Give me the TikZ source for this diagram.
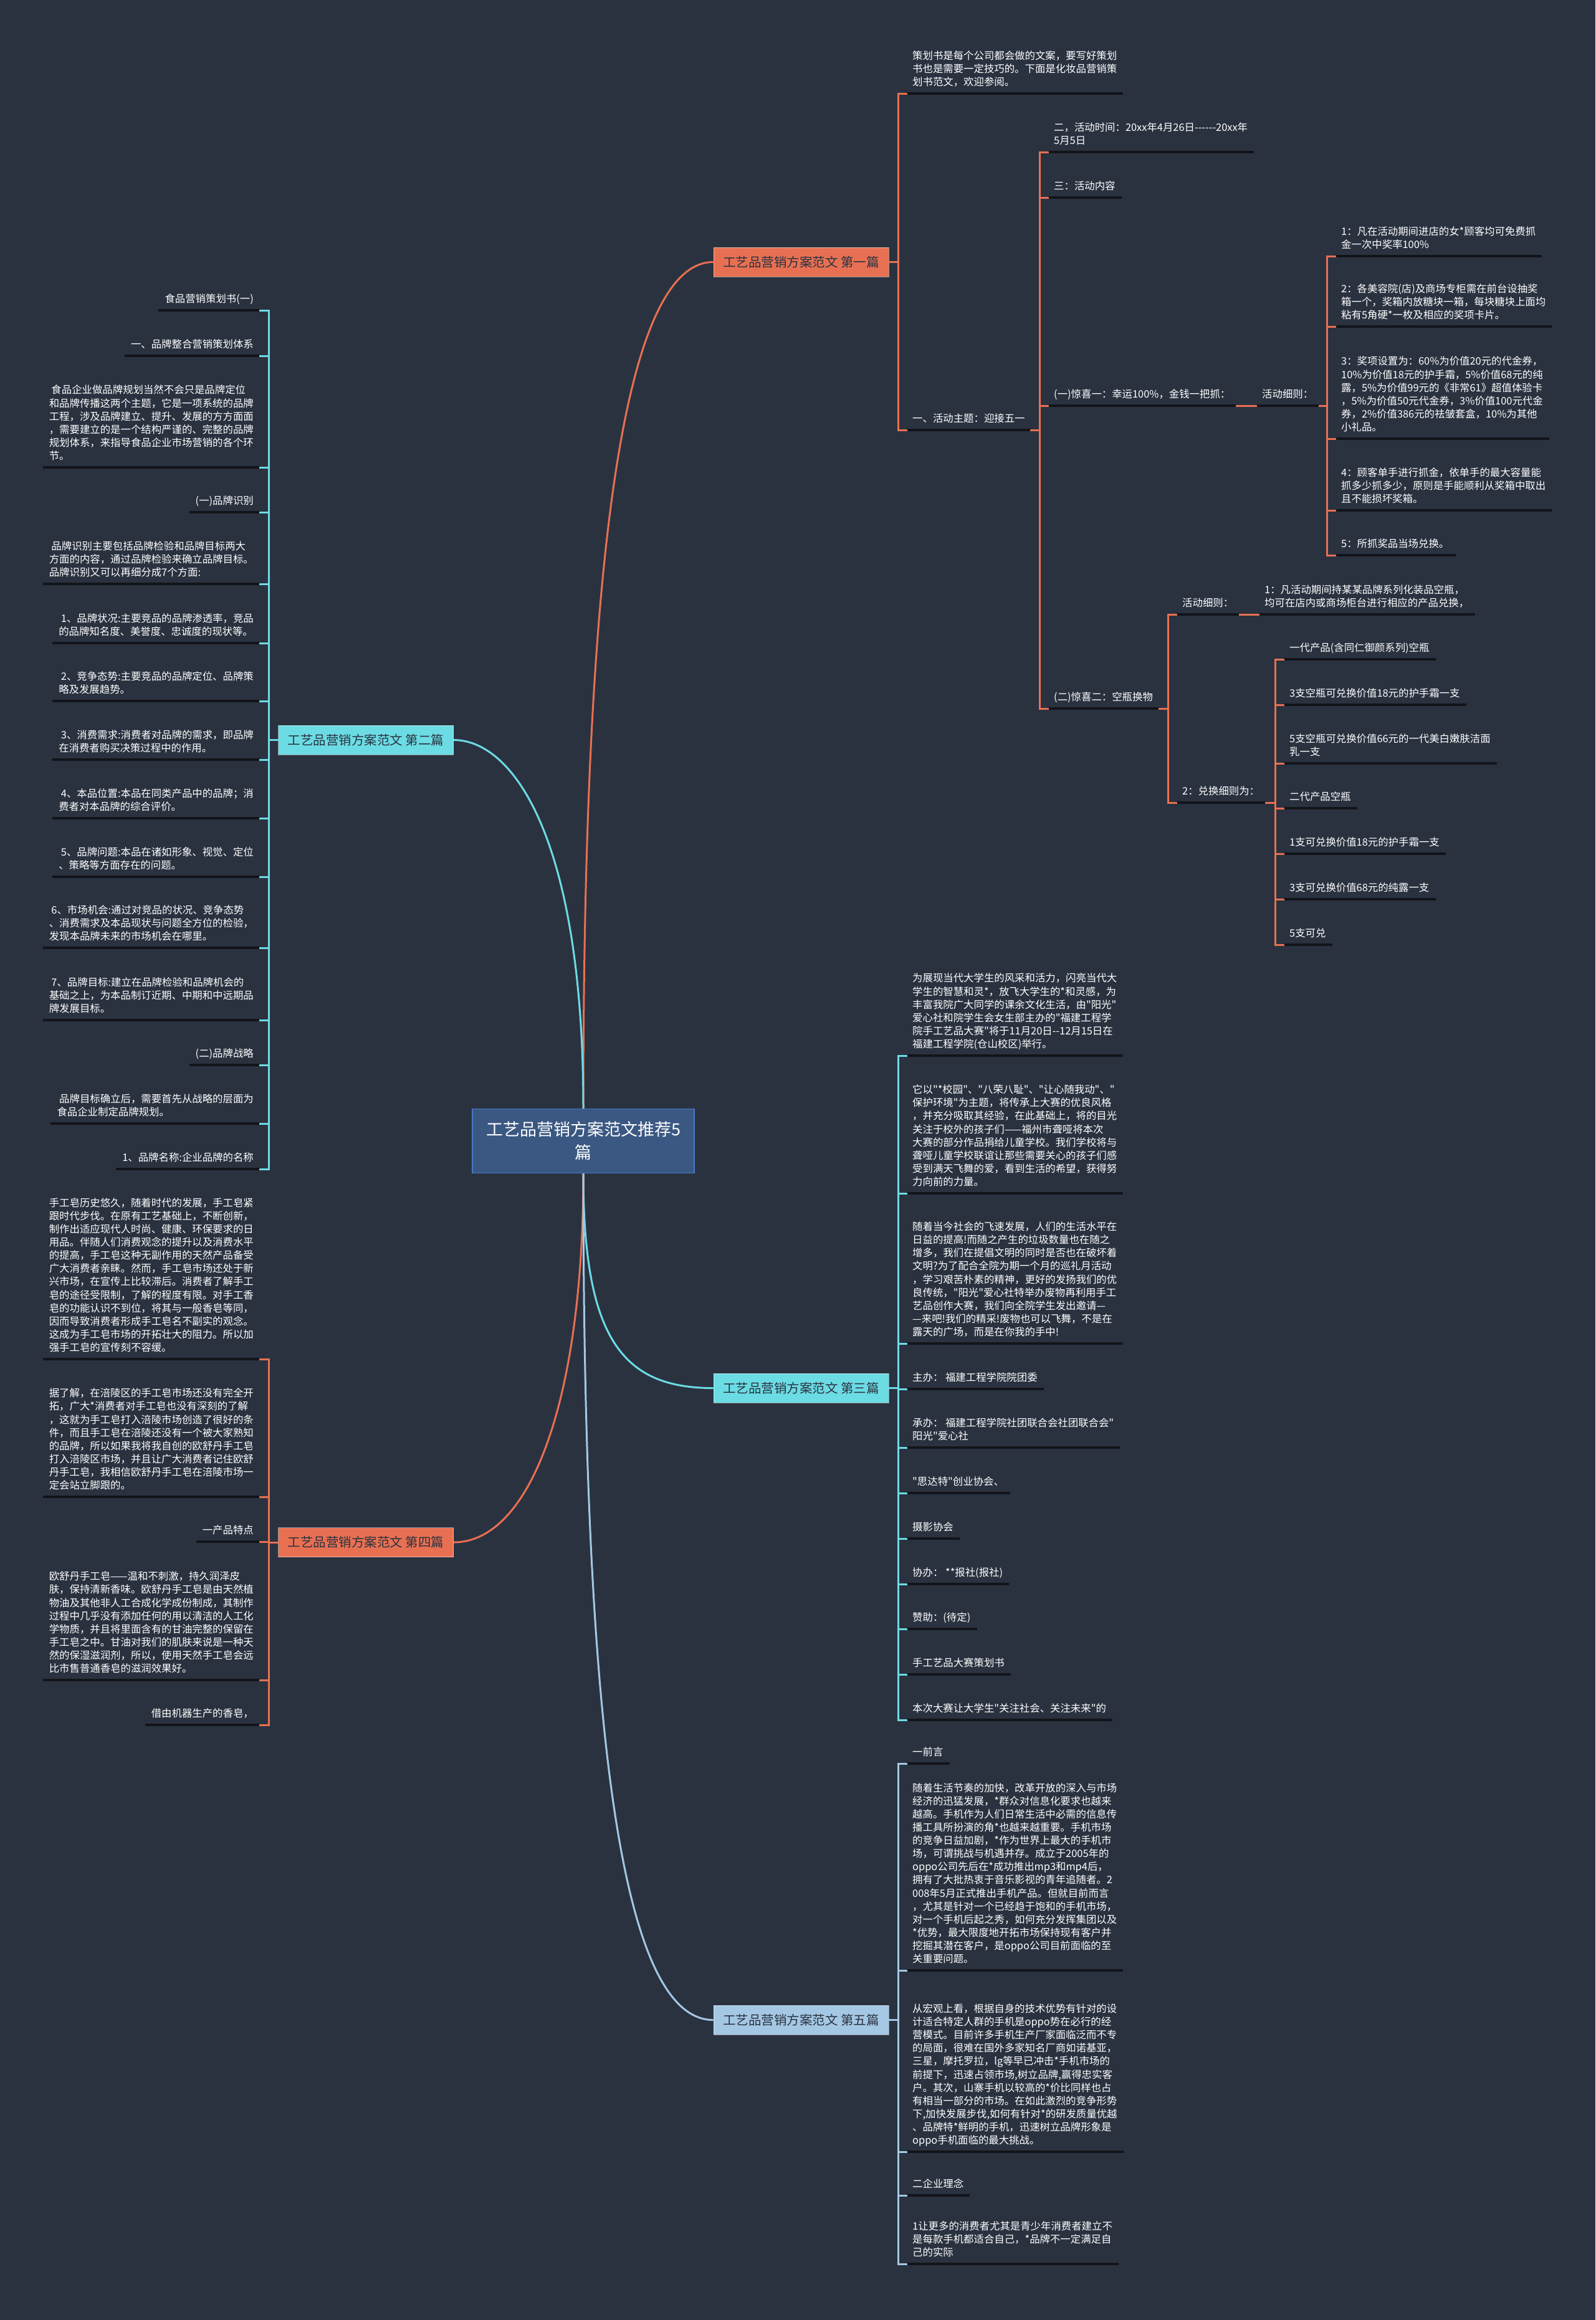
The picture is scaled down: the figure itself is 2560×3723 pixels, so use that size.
\documentclass[tikz,border=0pt]{standalone}
\usepackage{fontspec}
\newfontfamily\cjk{Noto Sans CJK SC}
\definecolor{bgc}{RGB}{42,50,64}
\definecolor{orng}{RGB}{232,112,82}
\definecolor{cyn}{RGB}{108,220,228}
\definecolor{lblu}{RGB}{164,200,228}
\definecolor{rootfill}{RGB}{58,88,130}
\definecolor{rootline}{RGB}{72,122,204}
\definecolor{ulc}{RGB}{18,20,26}
\tikzset{
  leaf/.style={inner xsep=10pt, inner ysep=6pt, align=left, text=white,
    font=\cjk\fontsize{16.4}{21.1}\selectfont, execute at end node=\strut,
    append after command={(\tikzlastnode.south west) edge[uline] (\tikzlastnode.south east)}},
  rleaf/.style={leaf, anchor=south west},
  lleaf/.style={leaf, anchor=south east},
  uline/.style={draw=ulc, line width=3.5pt},
  oline/.style={draw=orng, line width=3pt, line cap=rect},
  cline/.style={draw=cyn, line width=3pt, line cap=rect},
  bline/.style={draw=lblu, line width=3pt, line cap=rect},
  rootbox/.style={draw=rootline, line width=1.5pt, fill=rootfill, text=white,
    minimum width=356pt, minimum height=103pt, align=center,
    font=\cjk\fontsize{27}{37}\selectfont},
  pbox/.style={draw=white, draw opacity=0.5, line width=1pt, text=bgc,
    minimum width=281pt, minimum height=47pt, font=\cjk\fontsize{20.5}{24}\selectfont}
}
\begin{document}
\begin{tikzpicture}[x=1pt,y=-1pt]
\fill[bgc] (0,0) rectangle (2560,3723);

% centre and the five branches
\node[rootbox] (root) at (936,1831) {工艺品营销方案范文推荐5\\篇};
\node[pbox, fill=orng] (p1) at (1285.5,420.5) {工艺品营销方案范文 第一篇};
\node[pbox, fill=cyn] (p2) at (587,1187.5) {工艺品营销方案范文 第二篇};
\node[pbox, fill=cyn] (p3) at (1285.5,2227.5) {工艺品营销方案范文 第三篇};
\node[pbox, fill=orng] (p4) at (587,2475) {工艺品营销方案范文 第四篇};
\node[pbox, fill=lblu] (p5) at (1285.5,3241.5) {工艺品营销方案范文 第五篇};

\draw[oline, line cap=butt] (root.north) .. controls (936,900) and (1000,420.5) .. (p1.west);
\draw[cline, line cap=butt] (root.north) .. controls (936,1350) and (825,1187.5) .. (p2.east);
\draw[cline, line cap=butt] (root.south) .. controls (936,2150) and (1000,2227.5) .. (p3.west);
\draw[oline, line cap=butt] (root.south) .. controls (936,2250) and (850,2475) .. (p4.east);
\draw[bline, line cap=butt] (root.south) .. controls (936,2800) and (1000,3241.5) .. (p5.west);

\coordinate (kr) at (1441,0);
\coordinate (kl) at (431,0);

% branch one
\node[rleaf] (intro) at (1454,150) {策划书是每个公司都会做的文案，要写好策划\\书也是需要一定技巧的。下面是化妆品营销策\\划书范文，欢迎参阅。};
\node[rleaf] (theme) at (1454,690) {一、活动主题：迎接五一};
\draw[oline] (p1.east) -- (p1.east -| kr);
\draw[oline] (intro.south west -| kr) -- (theme.south west -| kr)
  (intro.south west -| kr) -- (intro.south west)
  (theme.south west -| kr) -- (theme.south west);

\coordinate (k2) at (1668,0);
\node[rleaf] (time) at (1681,244) {二，活动时间：20xx年4月26日-{}-{}-{}-{}-{}-20xx年\\5月5日};
\node[rleaf] (content) at (1681,317) {三：活动内容};
\node[rleaf] (joy1) at (1681,651) {(一)惊喜一：幸运100\%，金钱一把抓：};
\node[rleaf] (joy2) at (1681,1137) {(二)惊喜二：空瓶换物};
\draw[oline] (theme.south east) -- (theme.south east -| k2);
\draw[oline] (time.south west -| k2) -- (joy2.south west -| k2)
  (time.south west -| k2) -- (time.south west)
  (content.south west -| k2) -- (content.south west)
  (joy1.south west -| k2) -- (joy1.south west)
  (joy2.south west -| k2) -- (joy2.south west);

\node[rleaf] (rule1) at (2015,651) {活动细则：};
\draw[oline] (joy1.south east) -- (rule1.south west);
\coordinate (k3) at (2129,0);
\node[rleaf] (r1) at (2142,411) {1：凡在活动期间进店的女*顾客均可免费抓\\金一次中奖率100\%};
\node[rleaf] (r2) at (2142,524) {2：各美容院(店)及商场专柜需在前台设抽奖\\箱一个，奖箱内放糖块一箱，每块糖块上面均\\粘有5角硬*一枚及相应的奖项卡片。};
\node[rleaf] (r3) at (2142,704) {3：奖项设置为：60\%为价值20元的代金券，\\10\%为价值18元的护手霜，5\%价值68元的纯\\露，5\%为价值99元的《非常61》超值体验卡\\，5\%为价值50元代金券，3\%价值100元代金\\券，2\%价值386元的祛皱套盒，10\%为其他\\小礼品。};
\node[rleaf] (r4) at (2142,819) {4：顾客单手进行抓金，依单手的最大容量能\\抓多少抓多少，原则是手能顺利从奖箱中取出\\且不能损坏奖箱。};
\node[rleaf] (r5) at (2142,891) {5：所抓奖品当场兑换。};
\draw[oline] (rule1.south east) -- (rule1.south east -| k3);
\draw[oline] (r1.south west -| k3) -- (r5.south west -| k3)
  (r1.south west -| k3) -- (r1.south west)
  (r2.south west -| k3) -- (r2.south west)
  (r3.south west -| k3) -- (r3.south west)
  (r4.south west -| k3) -- (r4.south west)
  (r5.south west -| k3) -- (r5.south west);

\coordinate (k4) at (1874,0);
\node[rleaf] (rule2) at (1887,986) {活动细则：};
\node[rleaf] (rule2a) at (2019,986) {1：凡活动期间持某某品牌系列化装品空瓶，\\均可在店内或商场柜台进行相应的产品兑换，};
\node[rleaf] (swap) at (1887,1288) {2：兑换细则为：};
\draw[oline] (joy2.south east) -- (joy2.south east -| k4);
\draw[oline] (rule2.south east) -- (rule2a.south west);
\draw[oline] (rule2.south west -| k4) -- (swap.south west -| k4)
  (rule2.south west -| k4) -- (rule2.south west)
  (swap.south west -| k4) -- (swap.south west);

\coordinate (k5) at (2046,0);
\node[rleaf] (s1) at (2059,1058) {一代产品(含同仁御颜系列)空瓶};
\node[rleaf] (s2) at (2059,1131) {3支空瓶可兑换价值18元的护手霜一支};
\node[rleaf] (s3) at (2059,1225) {5支空瓶可兑换价值66元的一代美白嫩肤洁面\\乳一支};
\node[rleaf] (s4) at (2059,1297) {二代产品空瓶};
\node[rleaf] (s5) at (2059,1370) {1支可兑换价值18元的护手霜一支};
\node[rleaf] (s6) at (2059,1443) {3支可兑换价值68元的纯露一支};
\node[rleaf] (s7) at (2059,1516) {5支可兑};
\draw[oline] (swap.south east) -- (swap.south east -| k5);
\draw[oline] (s1.south west -| k5) -- (s7.south west -| k5)
  (s1.south west -| k5) -- (s1.south west)
  (s2.south west -| k5) -- (s2.south west)
  (s3.south west -| k5) -- (s3.south west)
  (s4.south west -| k5) -- (s4.south west)
  (s5.south west -| k5) -- (s5.south west)
  (s6.south west -| k5) -- (s6.south west)
  (s7.south west -| k5) -- (s7.south west);

% branch two
\node[lleaf] (f1) at (417,498) {食品营销策划书(一)};
\node[lleaf] (f2) at (417,571) {一、品牌整合营销策划体系};
\node[lleaf] (f3) at (417,750) {\ 食品企业做品牌规划当然不会只是品牌定位\\和品牌传播这两个主题，它是一项系统的品牌\\工程，涉及品牌建立、提升、发展的方方面面\\，需要建立的是一个结构严谨的、完整的品牌\\规划体系，来指导食品企业市场营销的各个环\\节。};
\node[lleaf] (f4) at (417,822) {(一)品牌识别};
\node[lleaf] (f5) at (417,937) {\ 品牌识别主要包括品牌检验和品牌目标两大\\方面的内容，通过品牌检验来确立品牌目标。\\品牌识别又可以再细分成7个方面:};
\node[lleaf] (f6) at (417,1032) {\ 1、品牌状况:主要竞品的品牌渗透率，竞品\\的品牌知名度、美誉度、忠诚度的现状等。};
\node[lleaf] (f7) at (417,1125) {\ 2、竞争态势:主要竞品的品牌定位、品牌策\\略及发展趋势。};
\node[lleaf] (f8) at (417,1219) {\ 3、消费需求:消费者对品牌的需求，即品牌\\在消费者购买决策过程中的作用。};
\node[lleaf] (f9) at (417,1313) {\ 4、本品位置:本品在同类产品中的品牌；消\\费者对本品牌的综合评价。};
\node[lleaf] (f10) at (417,1407) {\ 5、品牌问题:本品在诸如形象、视觉、定位\\、策略等方面存在的问题。};
\node[lleaf] (f11) at (417,1521) {\ 6、市场机会:通过对竞品的状况、竞争态势\\、消费需求及本品现状与问题全方位的检验，\\发现本品牌未来的市场机会在哪里。};
\node[lleaf] (f12) at (417,1637) {\ 7、品牌目标:建立在品牌检验和品牌机会的\\基础之上，为本品制订近期、中期和中远期品\\牌发展目标。};
\node[lleaf] (f13) at (417,1709) {(二)品牌战略};
\node[lleaf] (f14) at (417,1803) {\ 品牌目标确立后，需要首先从战略的层面为\\食品企业制定品牌规划。};
\node[lleaf] (f15) at (417,1876) {1、品牌名称:企业品牌的名称};
\draw[cline] (p2.west) -- (p2.west -| kl);
\draw[cline] (f1.south east -| kl) -- (f15.south east -| kl)
  (f1.south east) -- (f1.south east -| kl)
  (f2.south east) -- (f2.south east -| kl)
  (f3.south east) -- (f3.south east -| kl)
  (f4.south east) -- (f4.south east -| kl)
  (f5.south east) -- (f5.south east -| kl)
  (f6.south east) -- (f6.south east -| kl)
  (f7.south east) -- (f7.south east -| kl)
  (f8.south east) -- (f8.south east -| kl)
  (f9.south east) -- (f9.south east -| kl)
  (f10.south east) -- (f10.south east -| kl)
  (f11.south east) -- (f11.south east -| kl)
  (f12.south east) -- (f12.south east -| kl)
  (f13.south east) -- (f13.south east -| kl)
  (f14.south east) -- (f14.south east -| kl)
  (f15.south east) -- (f15.south east -| kl);

% branch three
\node[rleaf] (h1) at (1454,1694) {为展现当代大学生的风采和活力，闪亮当代大\\学生的智慧和灵*，放飞大学生的*和灵感，为\\丰富我院广大同学的课余文化生活，由"阳光"\\爱心社和院学生会女生部主办的"福建工程学\\院手工艺品大赛"将于11月20日-{}-12月15日在\\福建工程学院(仓山校区)举行。};
\node[rleaf] (h2) at (1454,1915) {它以"*校园"、"八荣八耻"、"让心随我动"、"\\保护环境"为主题，将传承上大赛的优良风格\\，并充分吸取其经验，在此基础上，将的目光\\关注于校外的孩子们——福州市聋哑将本次\\大赛的部分作品捐给儿童学校。我们学校将与\\聋哑儿童学校联谊让那些需要关心的孩子们感\\受到满天飞舞的爱，看到生活的希望，获得努\\力向前的力量。};
\node[rleaf] (h3) at (1454,2156) {随着当今社会的飞速发展，人们的生活水平在\\日益的提高!而随之产生的垃圾数量也在随之\\增多，我们在提倡文明的同时是否也在破坏着\\文明?为了配合全院为期一个月的巡礼月活动\\，学习艰苦朴素的精神，更好的发扬我们的优\\良传统，"阳光"爱心社特举办废物再利用手工\\艺品创作大赛，我们向全院学生发出邀请—\\—来吧!我们的精采!废物也可以飞舞，不是在\\露天的广场，而是在你我的手中!};
\node[rleaf] (h4) at (1454,2229) {主办： 福建工程学院院团委};
\node[rleaf] (h5) at (1454,2323) {承办： 福建工程学院社团联合会社团联合会"\\阳光"爱心社};
\node[rleaf] (h6) at (1454,2396) {"思达特"创业协会、};
\node[rleaf] (h7) at (1454,2469) {摄影协会};
\node[rleaf] (h8) at (1454,2542) {协办： **报社(报社)};
\node[rleaf] (h9) at (1454,2614) {赞助：(待定)};
\node[rleaf] (h10) at (1454,2687) {手工艺品大赛策划书};
\node[rleaf] (h11) at (1454,2760) {本次大赛让大学生"关注社会、关注未来"的};
\draw[cline] (p3.east) -- (p3.east -| kr);
\draw[cline] (h1.south west -| kr) -- (h11.south west -| kr)
  (h1.south west -| kr) -- (h1.south west)
  (h2.south west -| kr) -- (h2.south west)
  (h3.south west -| kr) -- (h3.south west)
  (h4.south west -| kr) -- (h4.south west)
  (h5.south west -| kr) -- (h5.south west)
  (h6.south west -| kr) -- (h6.south west)
  (h7.south west -| kr) -- (h7.south west)
  (h8.south west -| kr) -- (h8.south west)
  (h9.south west -| kr) -- (h9.south west)
  (h10.south west -| kr) -- (h10.south west)
  (h11.south west -| kr) -- (h11.south west);

% branch four
\node[lleaf] (g1) at (417,2181) {手工皂历史悠久，随着时代的发展，手工皂紧\\跟时代步伐。在原有工艺基础上，不断创新，\\制作出适应现代人时尚、健康、环保要求的日\\用品。伴随人们消费观念的提升以及消费水平\\的提高，手工皂这种无副作用的天然产品备受\\广大消费者亲睐。然而，手工皂市场还处于新\\兴市场，在宣传上比较滞后。消费者了解手工\\皂的途径受限制，了解的程度有限。对手工香\\皂的功能认识不到位，将其与一般香皂等同，\\因而导致消费者形成手工皂名不副实的观念。\\这成为手工皂市场的开拓壮大的阻力。所以加\\强手工皂的宣传刻不容缓。};
\node[lleaf] (g2) at (417,2402) {据了解，在涪陵区的手工皂市场还没有完全开\\拓，广大*消费者对手工皂也没有深刻的了解\\，这就为手工皂打入涪陵市场创造了很好的条\\件，而且手工皂在涪陵还没有一个被大家熟知\\的品牌，所以如果我将我自创的欧舒丹手工皂\\打入涪陵区市场，并且让广大消费者记住欧舒\\丹手工皂，我相信欧舒丹手工皂在涪陵市场一\\定会站立脚跟的。};
\node[lleaf] (g3) at (417,2474) {一产品特点};
\node[lleaf] (g4) at (417,2696) {欧舒丹手工皂——温和不刺激，持久润泽皮\\肤，保持清新香味。欧舒丹手工皂是由天然植\\物油及其他非人工合成化学成份制成，其制作\\过程中几乎没有添加任何的用以清洁的人工化\\学物质，并且将里面含有的甘油完整的保留在\\手工皂之中。甘油对我们的肌肤来说是一种天\\然的保湿滋润剂，所以，使用天然手工皂会远\\比市售普通香皂的滋润效果好。};
\node[lleaf] (g5) at (417,2768) {借由机器生产的香皂，};
\draw[oline] (p4.west) -- (p4.west -| kl);
\draw[oline] (g1.south east -| kl) -- (g5.south east -| kl)
  (g1.south east) -- (g1.south east -| kl)
  (g2.south east) -- (g2.south east -| kl)
  (g3.south east) -- (g3.south east -| kl)
  (g4.south east) -- (g4.south east -| kl)
  (g5.south east) -- (g5.south east -| kl);

% branch five
\node[rleaf] (m1) at (1454,2830) {一前言};
\node[rleaf] (m2) at (1454,3162) {随着生活节奏的加快，改革开放的深入与市场\\经济的迅猛发展，*群众对信息化要求也越来\\越高。手机作为人们日常生活中必需的信息传\\播工具所扮演的角*也越来越重要。手机市场\\的竞争日益加剧，*作为世界上最大的手机市\\场，可谓挑战与机遇并存。成立于2005年的\\oppo公司先后在*成功推出mp3和mp4后，\\拥有了大批热衷于音乐影视的青年追随者。2\\008年5月正式推出手机产品。但就目前而言\\，尤其是针对一个已经趋于饱和的手机市场，\\对一个手机后起之秀，如何充分发挥集团以及\\*优势，最大限度地开拓市场保持现有客户并\\挖掘其潜在客户，是oppo公司目前面临的至\\关重要问题。};
\node[rleaf] (m3) at (1454,3453) {从宏观上看，根据自身的技术优势有针对的设\\计适合特定人群的手机是oppo势在必行的经\\营模式。目前许多手机生产厂家面临泛而不专\\的局面，很难在国外多家知名厂商如诺基亚，\\三星，摩托罗拉，lg等早已冲击*手机市场的\\前提下，迅速占领市场,树立品牌,赢得忠实客\\户。其次，山寨手机以较高的*价比同样也占\\有相当一部分的市场。在如此激烈的竞争形势\\下,加快发展步伐,如何有针对*的研发质量优越\\、品牌特*鲜明的手机，迅速树立品牌形象是\\oppo手机面临的最大挑战。};
\node[rleaf] (m4) at (1454,3523) {二企业理念};
\node[rleaf] (m5) at (1454,3633) {1让更多的消费者尤其是青少年消费者建立不\\是每款手机都适合自己，*品牌不一定满足自\\己的实际};
\draw[bline] (p5.east) -- (p5.east -| kr);
\draw[bline] (m1.south west -| kr) -- (m5.south west -| kr)
  (m1.south west -| kr) -- (m1.south west)
  (m2.south west -| kr) -- (m2.south west)
  (m3.south west -| kr) -- (m3.south west)
  (m4.south west -| kr) -- (m4.south west)
  (m5.south west -| kr) -- (m5.south west);
\end{tikzpicture}
\end{document}
